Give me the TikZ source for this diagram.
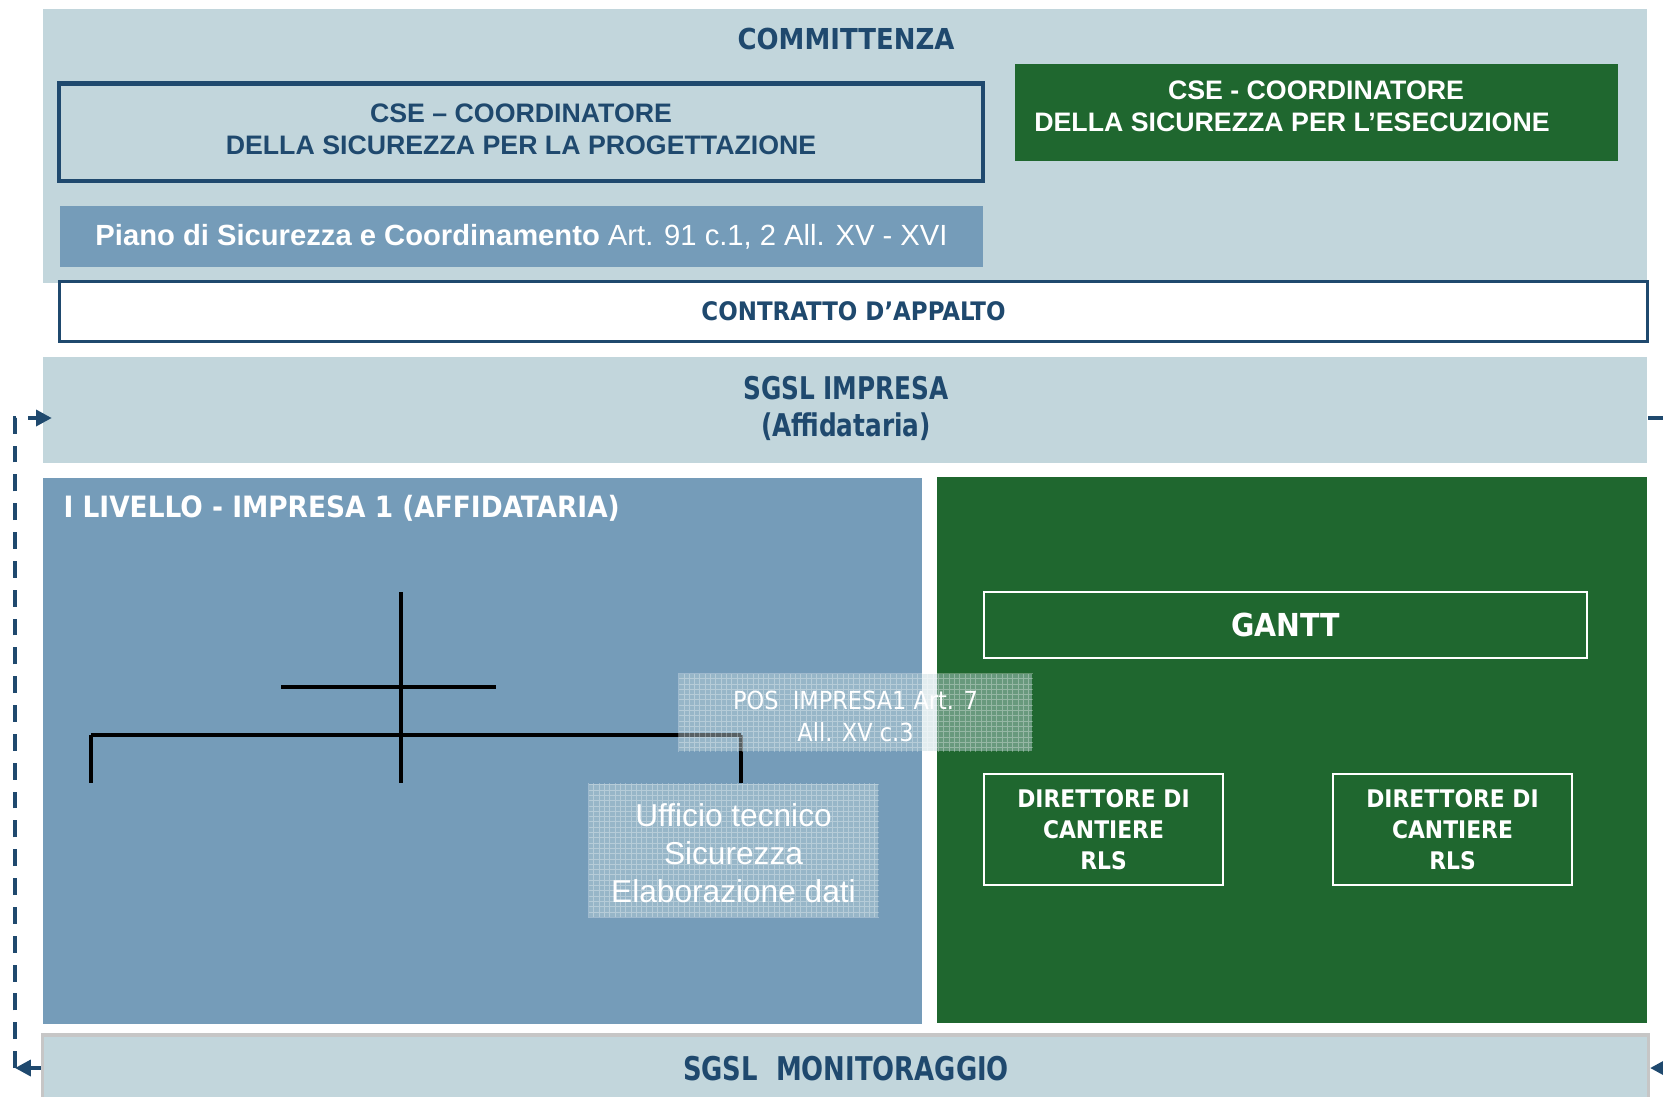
\documentclass[tikz,border=0pt]{standalone}
\usepackage{fontspec}
\setmainfont{Liberation Sans}
\newfontfamily\tahoma{DejaVu Sans Condensed}
\newfontfamily\tahomanarrow{DejaVu Sans Condensed}[FakeStretch=0.88]
\usetikzlibrary{arrows.meta}

\definecolor{bgLight}{RGB}{194,214,220}
\definecolor{panelBlue}{RGB}{117,156,185}
\definecolor{impGreen}{RGB}{31,103,47}
\definecolor{navy}{RGB}{31,73,110}

\begin{document}
\begin{tikzpicture}[
    x=0.01cm, y=-0.01cm,
    band/.style={rectangle, fill=bgLight, inner sep=0pt},
    panel/.style={rectangle, inner sep=0pt},
    whitebox/.style={rectangle, draw=white, line width=0.6pt, inner sep=0pt, text=white, align=center},
    gridbox/.style={rectangle, fill=bgLight, fill opacity=0.45, inner sep=0pt},
    gridtext/.style={text=white, align=center, inner sep=0pt},
    navytitle/.style={font=\tahoma\bfseries\fontsize{8.2pt}{10pt}\selectfont, text=navy, align=center},
    loopline/.style={navy, line width=1.1pt, dash pattern=on 4.8pt off 3.4pt},
    tip/.style={-{Triangle[length=4.5pt, width=4.5pt]}},
    orgline/.style={black, line width=1.2pt}
]
    \useasboundingbox (0,0) rectangle (1663,1096);
    \clip (0,0) rectangle (1663,1096);

    % Committenza
    \node[band, minimum width=16.04cm, minimum height=2.74cm] (committenza) at (845,146) {};
    \node[navytitle] (committitle) at (846,39) {COMMITTENZA};
    \node[panel, draw=navy, line width=1.15pt, minimum width=9.24cm, minimum height=0.97cm] (csp) at (521,132) {};
    \node[font=\bfseries\fontsize{7.6pt}{9.1pt}\selectfont, text=navy, align=center] (csptext) at (521,129)
        {CSE -- COORDINATORE\\DELLA SICUREZZA PER LA PROGETTAZIONE};
    \node[panel, fill=impGreen, minimum width=6.03cm, minimum height=0.97cm] (cse) at (1316.5,112.5) {};
    \node[font=\bfseries\fontsize{7.6pt}{9.1pt}\selectfont, text=white, align=center] (csetext) at (1316,106)
        {CSE - COORDINATORE\\DELLA SICUREZZA PER L’ESECUZIONE\hspace*{0.48cm}};
    \node[panel, fill=panelBlue, minimum width=9.23cm, minimum height=0.61cm, text=white,
        font=\fontsize{8.3pt}{10pt}\selectfont] (psc) at (521.5,236.5)
        {\textbf{Piano di Sicurezza e Coordinamento} Art. 91 c.1, 2 All. XV - XVI};

    % Contratto
    \node[panel, fill=white, draw=navy, line width=0.85pt, minimum width=15.88cm, minimum height=0.6cm,
        font=\tahoma\bfseries\fontsize{7.25pt}{9pt}\selectfont, text=navy] (contratto) at (853.5,311.5)
        {CONTRATTO D’APPALTO};

    % SGSL impresa
    \node[band, minimum width=16.04cm, minimum height=1.06cm] (impresa) at (845,410) {};
    \node[navytitle, font=\tahomanarrow\bfseries\fontsize{8.9pt}{10.5pt}\selectfont] (impresatext) at (846,408)
        {SGSL IMPRESA\\(Affidataria)};

    % Livello 1
    \node[panel, fill=panelBlue, minimum width=8.79cm, minimum height=5.46cm] (livello) at (482.5,751) {};
    \node[anchor=west, inner sep=0pt, text=white, font=\tahoma\bfseries\fontsize{8.35pt}{10pt}\selectfont] (livellotext)
        at (63,508) {I LIVELLO - IMPRESA 1 (AFFIDATARIA)};
    \node[panel, fill=impGreen, minimum width=7.10cm, minimum height=5.46cm] (cantiere) at (1292,750) {};
    \node[whitebox, minimum width=6.03cm, minimum height=0.66cm, font=\tahoma\bfseries\fontsize{9pt}{10pt}\selectfont]
        (gantt) at (1285.5,625) {GANTT};
    \node[whitebox, minimum width=2.39cm, minimum height=1.11cm, font=\tahoma\bfseries\fontsize{6.9pt}{8.8pt}\selectfont]
        (direttoreA) at (1103.5,829.5) {DIRETTORE DI\\CANTIERE\\RLS};
    \node[whitebox, minimum width=2.39cm, minimum height=1.11cm, font=\tahoma\bfseries\fontsize{6.9pt}{8.8pt}\selectfont]
        (direttoreB) at (1452.5,829.5) {DIRETTORE DI\\CANTIERE\\RLS};

    % Organigramma
    \coordinate (orgtop) at (401,592);
    \coordinate (orgbar) at (401,735);
    \coordinate (orgleft) at (91,735);
    \coordinate (orgright) at (741,735);
    \draw[orgline] (orgtop) -- (401,783);
    \draw[orgline] (281,687) -- (496,687);
    \draw[orgline] (orgleft) -- (orgright);
    \draw[orgline] (orgleft) -- (91,783);

    \node[gridbox, minimum width=2.89cm, minimum height=1.33cm] (ufficio) at (733.5,850.5) {};
    \draw[orgline] (orgright) -- (orgright |- ufficio.north);
    \node[gridbox, minimum width=3.53cm, minimum height=0.77cm] (pos) at (855.5,712.5) {};
    \foreach \gname in {ufficio, pos} {
        \begin{scope}
            \clip (\gname.south west) rectangle (\gname.north east);
            \draw[white, opacity=0.3, line width=0.25pt, step=0.053cm] (\gname.south west) grid (\gname.north east);
        \end{scope}
    }
    \node[gridtext, font=\fontsize{9pt}{10.8pt}\selectfont] (ufficiotext) at (733.5,853)
        {Ufficio tecnico\\Sicurezza\\Elaborazione dati};
    \node[gridtext, font=\tahoma\fontsize{7.1pt}{9.1pt}\selectfont] (postext) at (855.5,716)
        {POS\ \ IMPRESA1 Art. 7\\All. XV c.3};

    % Monitoraggio
    \node[band, draw=gray!45, line width=0.9pt, minimum width=16.05cm, minimum height=0.8cm] (monitor) at (845.5,1075) {};
    \node[navytitle, font=\tahomanarrow\bfseries\fontsize{9.3pt}{10pt}\selectfont] (monitortext) at (846,1069)
        {SGSL\ \ MONITORAGGIO};

    % Ritorno
    \coordinate (loopTL) at (15,418);
    \coordinate (loopBL) at (15,1068);
    \coordinate (loopTR) at (1668,418);
    \coordinate (loopBR) at (1668,1068);
    \draw[loopline, tip] (loopBL) -- (loopTL) -- ([xshift=0.1cm]impresa.west |- loopTL);
    \draw[navy, line width=1.1pt, tip] (monitor.west |- loopBL) -- (loopBL);
    \draw[navy, line width=1.1pt] (impresa.east |- loopTR) -- (loopTR) -- (loopBR);
    \draw[navy, line width=1.1pt, tip] (loopBR) -- (monitor.east |- loopBR);

\end{tikzpicture}
\end{document}
